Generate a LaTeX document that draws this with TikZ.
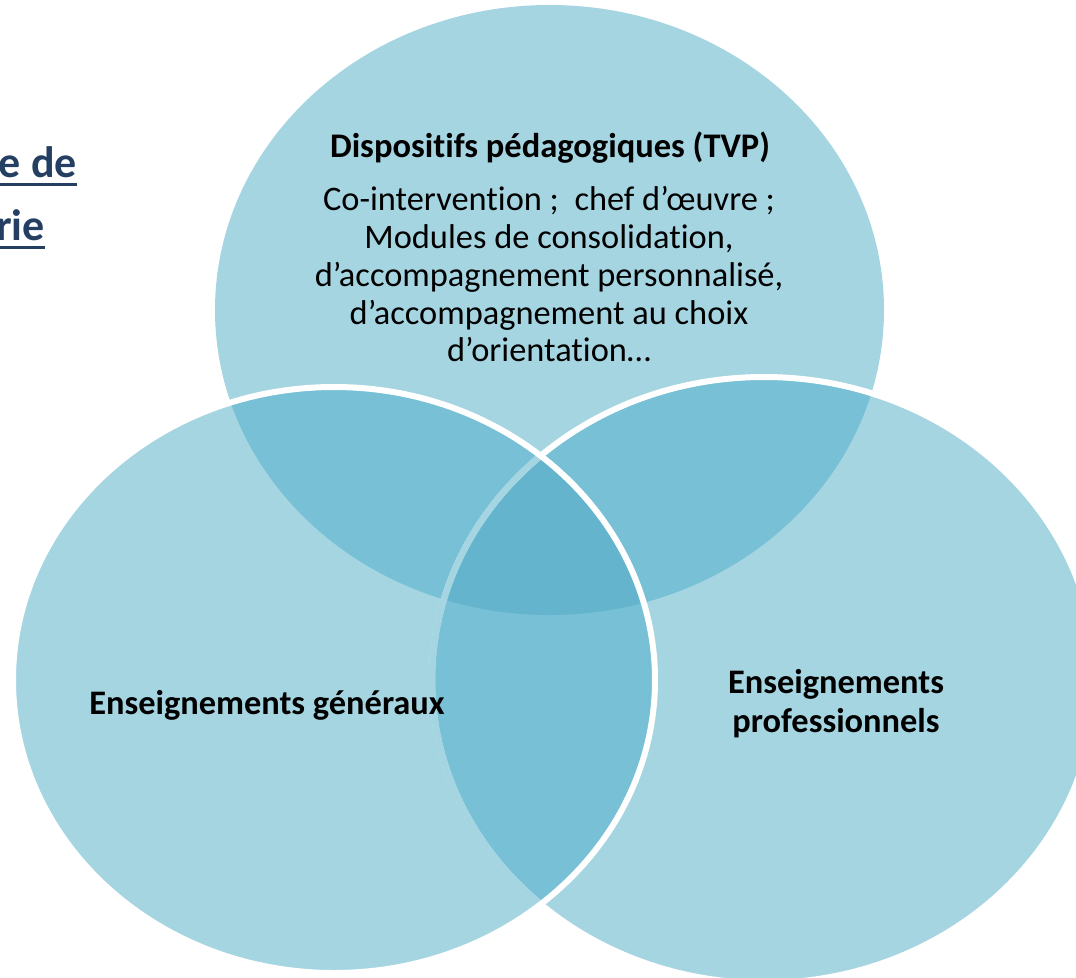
\documentclass[tikz,border=0pt]{standalone}
\usepackage{fontspec}
\setmainfont{Carlito}[Ligatures=NoCommon]
\definecolor{cone}{HTML}{A6D5E2}
\definecolor{ctwo}{HTML}{78C0D5}
\definecolor{cthree}{HTML}{63B4CC}
\definecolor{navy}{HTML}{243F62}
\begin{document}
\begin{tikzpicture}[x=1pt,y=-1pt,
  headtxt/.style={font=\fontsize{34.5}{40}\selectfont\bfseries, inner sep=0pt},
  bodytxt/.style={font=\fontsize{34.4}{37.7}\selectfont, align=center, inner sep=0pt},
  labtxt/.style={font=\fontsize{34.4}{39}\selectfont\bfseries, align=center, inner sep=0pt},
  ttltxt/.style={font=\fontsize{44}{60}\selectfont\bfseries, text=navy, inner sep=0pt}]
\useasboundingbox (0,0) rectangle (1076,977);
\def\Ptop{(549.5,310) ellipse [x radius=334.5pt, y radius=305pt]}
\def\Pleft{(334,680) ellipse [x radius=321pt, y radius=293pt]}
\def\Pright{(764,680) ellipse [x radius=332pt, y radius=303pt]}
% base fills
\fill[cone] \Ptop;
\fill[cone] \Pleft;
\fill[cone] \Pright;
% pairwise overlaps
\begin{scope}\clip \Ptop; \fill[ctwo] \Pleft; \fill[ctwo] \Pright; \end{scope}
\begin{scope}\clip \Pleft; \fill[ctwo] \Pright; \end{scope}
% triple overlap
\begin{scope}\clip \Ptop; \clip \Pleft; \fill[cthree] \Pright; \end{scope}
% outlines
\draw[white, line width=6pt] \Pright;
\begin{scope}\clip \Pleft; \draw[cone, line width=6.5pt] \Pright; \end{scope}
\draw[white, line width=6pt] \Pleft;
% texts
\node[headtxt, anchor=base] (head) at (550,157) {Dispositifs pédagogiques (TVP)};
\node[bodytxt, anchor=base] (body) at (549,361.7) {Co-intervention ;\ \ chef d’œuvre ;\\Modules de consolidation,\\d’accompagnement personnalisé,\\d’accompagnement au choix\\d’orientation…};
\node[labtxt, anchor=base] (gen) at (267,714) {Enseignements généraux};
\node[labtxt, anchor=base] (pro) at (836,732) {Enseignements\\professionnels};
\node[ttltxt, anchor=base east] (t1) at (77,177) {e de};
\node[ttltxt, anchor=base east] (t2) at (45,240) {rie};
\coordinate (u1) at (0,184);
\coordinate (u2) at (0,247);
\draw[navy, line width=3pt] (u1) -- (u1 -| t1.east);
\draw[navy, line width=3pt] (u2) -- (u2 -| t2.east);
\end{tikzpicture}
\end{document}
